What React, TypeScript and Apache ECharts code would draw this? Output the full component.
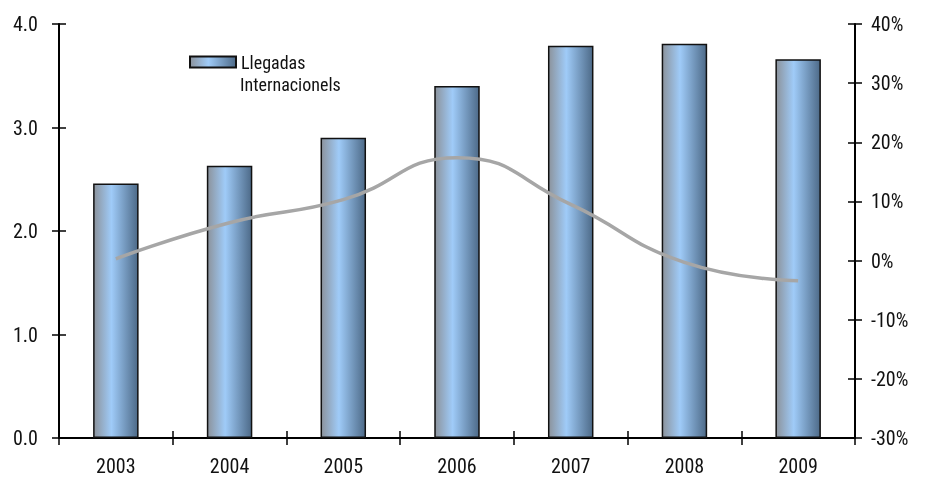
import React, { useEffect, useRef } from "react";
import * as echarts from "echarts";

const years = ["2003", "2004", "2005", "2006", "2007", "2008", "2009"];
const arrivals = [2.46, 2.63, 2.9, 3.4, 3.79, 3.81, 3.66];
const growth = [0.3, 6.4, 10.3, 17.4, 9.5, -0.3, -3.4];
const seriesName = "Llegadas Internacionels";
const legendLines = ["Llegadas", "Internacionels"];

const FONT = "'Liberation Sans Narrow', 'Arial Narrow', 'Roboto Condensed', 'Liberation Sans', sans-serif";

export default function App() {
  const ref = useRef<HTMLDivElement>(null);
  useEffect(() => {
    const chart = echarts.init(ref.current!, null, { renderer: "svg" });
    const lbl = { fontFamily: FONT, fontSize: 20, color: "#111" };
    const axisLine = { show: true, onZero: false, lineStyle: { color: "#000", width: 2 } };
    const tick = (inside: boolean) => ({ show: true, inside, length: 7, lineStyle: { color: "#000", width: 1.5 } });
    chart.setOption({
      animation: false,
      textStyle: { fontFamily: FONT },
      grid: { left: 59, right: 70, top: 24, bottom: 44 },
      legend: {
        data: [seriesName],
        left: 184,
        top: 46,
        orient: "vertical",
        itemWidth: 46,
        itemHeight: 11,
        icon: "rect",
        formatter: () => legendLines[0],
        textStyle: { ...lbl, fontSize: 18, lineHeight: 22 },
      },
      graphic: [
        {
          type: "text",
          left: 240,
          top: 75,
          style: { text: legendLines[1], font: `18px ${FONT}`, fill: "#111" },
        },
      ],
      xAxis: [
        {
          type: "category",
          data: years,
          position: "bottom",
          axisLine,
          axisTick: tick(false),
          axisLabel: { ...lbl, margin: 18 },
          splitLine: { show: false },
        },
        {
          type: "category",
          data: years,
          position: "bottom",
          axisLine: { show: false, onZero: false },
          axisTick: tick(true),
          axisLabel: { show: false },
          splitLine: { show: false },
        },
      ],
      yAxis: [
        {
          type: "value",
          min: 0,
          max: 4,
          interval: 1,
          position: "left",
          axisLine,
          axisTick: tick(false),
          axisLabel: { ...lbl, margin: 21, formatter: (v: number) => v.toFixed(1) },
          splitLine: { show: false },
        },
        {
          type: "value",
          min: -30,
          max: 40,
          interval: 10,
          position: "right",
          axisLine,
          axisTick: tick(false),
          axisLabel: { ...lbl, margin: 16, formatter: (v: number) => v + "%" },
          splitLine: { show: false },
        },
        {
          type: "value",
          min: 0,
          max: 4,
          interval: 1,
          position: "left",
          axisLine: { show: false, onZero: false },
          axisTick: tick(true),
          axisLabel: { show: false },
          splitLine: { show: false },
        },
        {
          type: "value",
          min: -30,
          max: 40,
          interval: 10,
          position: "right",
          axisLine: { show: false, onZero: false },
          axisTick: tick(true),
          axisLabel: { show: false },
          splitLine: { show: false },
        },
      ],
      series: [
        {
          name: seriesName,
          type: "bar",
          data: arrivals,
          barWidth: "40%",
          xAxisIndex: 0,
          yAxisIndex: 0,
          itemStyle: {
            color: new echarts.graphic.LinearGradient(0, 0, 1, 0, [
              { offset: 0, color: "#8c939c" },
              { offset: 0.4, color: "#9fcbf8" },
              { offset: 1, color: "#4d6a88" },
            ]),
            borderColor: "#111",
            borderWidth: 1.5,
          },
        },
        {
          name: "growth",
          type: "line",
          data: growth,
          xAxisIndex: 0,
          yAxisIndex: 1,
          smooth: 0.5,
          showSymbol: false,
          symbol: "none",
          lineStyle: { color: "#a6a6a6", width: 3.5 },
          z: 5,
        },
      ],
    });
    return () => chart.dispose();
  }, []);
  return <div ref={ref} style={{ position: "fixed", left: 0, top: 0, width: 925, height: 482 }} />;
}
